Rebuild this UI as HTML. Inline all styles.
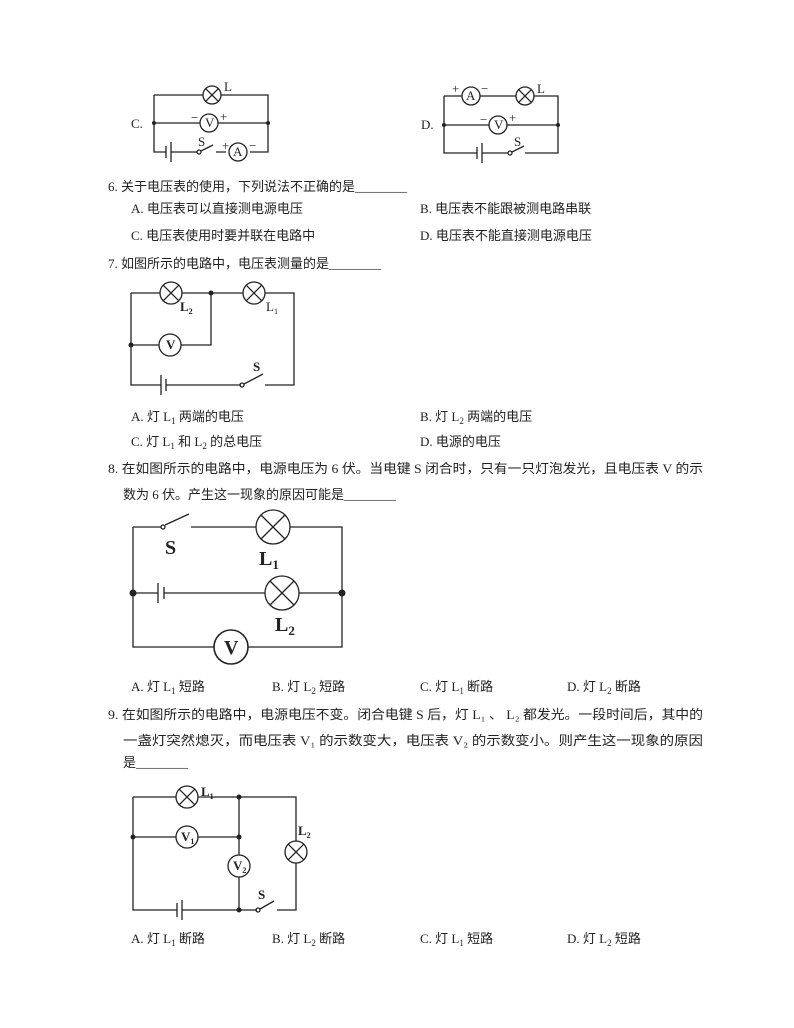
<!DOCTYPE html>
<html><head><meta charset="utf-8"><style>
html,body{margin:0;padding:0;background:#fff;}
svg{display:block;}
text{font-family:"Liberation Serif","Noto Sans CJK SC",sans-serif;font-size:13px;fill:#222;}
.c text{font-family:"Liberation Serif",serif;}
</style></head><body>
<svg width="794" height="1028" viewBox="0 0 794 1028" xmlns="http://www.w3.org/2000/svg">
<g stroke="#222" stroke-width="1.3" fill="none" class="c">
<!-- Circuit C -->
<path d="M154 95H203M221 95H268V152H250M226 152H216M197 152H171M166 152H154V95"/>
<path d="M154 123H200M218 123H268"/>
<circle cx="212" cy="95" r="9"/><path d="M205.6 88.6L218.4 101.4M218.4 88.6L205.6 101.4"/>
<circle cx="209" cy="123" r="9"/>
<circle cx="238" cy="152" r="9"/>
<path d="M166 146V158M171 142V162"/>
<circle cx="199" cy="152" r="2"/><path d="M201 151L213 145"/>
<!-- Circuit D -->
<path d="M444 96H462M480 96H516M534 96H558V153H525M508 153H482M477 153H444V96"/>
<path d="M444 125H489M507 125H558"/>
<circle cx="471" cy="96" r="9"/>
<circle cx="525" cy="96" r="9"/><path d="M518.6 89.6L531.4 102.4M531.4 89.6L518.6 102.4"/>
<circle cx="498" cy="125" r="9"/>
<path d="M477 147V159M482 143V163"/>
<circle cx="510" cy="153" r="2"/><path d="M512 152L524 146"/>
<!-- Circuit 7 -->
<path d="M131 293H160M182 293H243M265 293H294V385H265M241 385H166M161 385H131V293"/>
<path d="M211 293V345H181M159 345H131"/>
<circle cx="171" cy="293" r="11"/><path d="M163.2 285.2L178.8 300.8M178.8 285.2L163.2 300.8"/>
<circle cx="254" cy="293" r="11"/><path d="M246.2 285.2L261.8 300.8M261.8 285.2L246.2 300.8"/>
<circle cx="170" cy="345" r="11"/>
<path d="M161 375V395M166 379V391"/>
<circle cx="242" cy="385" r="2"/><path d="M244 384L263 374"/>
<!-- Circuit 8 -->
<path d="M133 527H161M191 527H256M290 527H342V647H248M214 647H133V527"/>
<path d="M133 593H158M164 593H265M299 593H342"/>
<circle cx="273" cy="527" r="17"/><path d="M261 515L285 539M285 515L261 539"/>
<circle cx="282" cy="593" r="17"/><path d="M270 581L294 605M294 581L270 605"/>
<circle cx="231" cy="647" r="17" stroke-width="1.6"/>
<path d="M158 583V603M164 587V599"/>
<circle cx="163" cy="527" r="2"/><path d="M165 525L189 514"/>
<!-- Circuit 9 -->
<path d="M133 797H176M198 797H296V841M296 863V910H277M257 910H182M177 910H133V797"/>
<path d="M133 837H176M198 837H239M239 797V855M239 877V910"/>
<circle cx="187" cy="797" r="11"/><path d="M179.2 789.2L194.8 804.8M194.8 789.2L179.2 804.8"/>
<circle cx="187" cy="837" r="11"/>
<circle cx="239" cy="866" r="11"/>
<circle cx="296" cy="852" r="11"/><path d="M288.2 844.2L303.8 859.8M303.8 844.2L288.2 859.8"/>
<path d="M177 903V917M182 900V920"/>
<circle cx="258" cy="910" r="2"/><path d="M260 909L274 901"/>
</g>
<g fill="#222">
<circle cx="154" cy="123" r="2"/><circle cx="268" cy="123" r="2"/>
<circle cx="444" cy="125" r="2"/><circle cx="558" cy="125" r="2"/>
<circle cx="211" cy="293" r="2.5"/><circle cx="131" cy="345" r="2.5"/>
<circle cx="133" cy="593" r="3.5"/><circle cx="342" cy="593" r="3.5"/>
<circle cx="239" cy="797" r="2.5"/><circle cx="239" cy="837" r="2.5"/><circle cx="133" cy="837" r="2.5"/><circle cx="239" cy="910" r="2.5"/>
</g>
<g class="c">
<text x="131" y="128">C.</text><text x="224" y="91">L</text>
<text x="191" y="122">−</text><text x="205" y="127" font-size="12">V</text><text x="220" y="121">+</text>
<text x="198" y="146" font-size="12">S</text><text x="222" y="150">+</text><text x="233" y="156" font-size="12">A</text><text x="249" y="150">−</text>
<text x="421" y="129">D.</text><text x="537" y="93">L</text>
<text x="452" y="93">+</text><text x="466" y="100" font-size="12">A</text><text x="481" y="93">−</text>
<text x="480" y="124">−</text><text x="494" y="129" font-size="12">V</text><text x="509" y="122">+</text>
<text x="514" y="146" font-size="12">S</text>
<text x="166" y="349" font-size="12" font-weight="bold">V</text>
<text x="180" y="311" font-size="12" font-weight="bold">L<tspan font-size="8" dy="3">2</tspan></text>
<text x="266" y="311" font-size="12">L<tspan font-size="8" dy="3">1</tspan></text>
<text x="253" y="371" font-size="12" font-weight="bold">S</text>
<text x="165" y="554" font-size="20" font-weight="bold" style="font-size:20px">S</text>
<text x="259" y="565" style="font-size:20px" font-weight="bold">L<tspan style="font-size:13px" dy="4">1</tspan></text>
<text x="275" y="631" style="font-size:20px" font-weight="bold">L<tspan style="font-size:13px" dy="4">2</tspan></text>
<text x="224" y="654" style="font-size:20px" font-weight="bold">V</text>
<text x="201" y="796" font-size="12" font-weight="bold">L<tspan font-size="8" dy="3">1</tspan></text>
<text x="181" y="841" font-size="12" font-weight="bold">V<tspan font-size="8" dy="3">1</tspan></text>
<text x="233" y="870" font-size="12" font-weight="bold">V<tspan font-size="8" dy="3">2</tspan></text>
<text x="298" y="835" font-size="12" font-weight="bold">L<tspan font-size="8" dy="3">2</tspan></text>
<text x="258" y="899" font-size="12" font-weight="bold">S</text>
</g>
<g>
<text x="108" y="191">6. 关于电压表的使用，下列说法不正确的是________</text>
<text x="131" y="213">A. 电压表可以直接测电源电压</text>
<text x="420" y="213">B. 电压表不能跟被测电路串联</text>
<text x="131" y="240">C. 电压表使用时要并联在电路中</text>
<text x="420" y="240">D. 电压表不能直接测电源电压</text>
<text x="108" y="268">7. 如图所示的电路中，电压表测量的是________</text>
<text x="131" y="421">A. 灯 L<tspan font-size="9" dy="3">1</tspan><tspan dy="-3"> 两端的电压</tspan></text>
<text x="420" y="421">B. 灯 L<tspan font-size="9" dy="3">2</tspan><tspan dy="-3"> 两端的电压</tspan></text>
<text x="131" y="446">C. 灯 L<tspan font-size="9" dy="3">1</tspan><tspan dy="-3"> 和 L</tspan><tspan font-size="9" dy="3">2</tspan><tspan dy="-3"> 的总电压</tspan></text>
<text x="420" y="446">D. 电源的电压</text>
<text x="108" y="473" textLength="595" lengthAdjust="spacingAndGlyphs">8. 在如图所示的电路中，电源电压为 6 伏。当电键 S 闭合时，只有一只灯泡发光，且电压表 V 的示</text>
<text x="123" y="499">数为 6 伏。产生这一现象的原因可能是________</text>
<text x="131" y="691">A. 灯 L<tspan font-size="9" dy="3">1</tspan><tspan dy="-3"> 短路</tspan></text>
<text x="272" y="691">B. 灯 L<tspan font-size="9" dy="3">2</tspan><tspan dy="-3"> 短路</tspan></text>
<text x="420" y="691">C. 灯 L<tspan font-size="9" dy="3">1</tspan><tspan dy="-3"> 断路</tspan></text>
<text x="567" y="691">D. 灯 L<tspan font-size="9" dy="3">2</tspan><tspan dy="-3"> 断路</tspan></text>
<text x="108" y="719" textLength="595" lengthAdjust="spacingAndGlyphs">9. 在如图所示的电路中，电源电压不变。闭合电键 S 后，灯 L₁ 、 L₂ 都发光。一段时间后，其中的</text>
<text x="123" y="745" textLength="580" lengthAdjust="spacingAndGlyphs">一盏灯突然熄灭，而电压表 V₁ 的示数变大，电压表 V₂ 的示数变小。则产生这一现象的原因</text>
<text x="123" y="767">是________</text>
<text x="131" y="943">A. 灯 L<tspan font-size="9" dy="3">1</tspan><tspan dy="-3"> 断路</tspan></text>
<text x="272" y="943">B. 灯 L<tspan font-size="9" dy="3">2</tspan><tspan dy="-3"> 断路</tspan></text>
<text x="420" y="943">C. 灯 L<tspan font-size="9" dy="3">1</tspan><tspan dy="-3"> 短路</tspan></text>
<text x="567" y="943">D. 灯 L<tspan font-size="9" dy="3">2</tspan><tspan dy="-3"> 短路</tspan></text>
</g>
</svg>
</body></html>
